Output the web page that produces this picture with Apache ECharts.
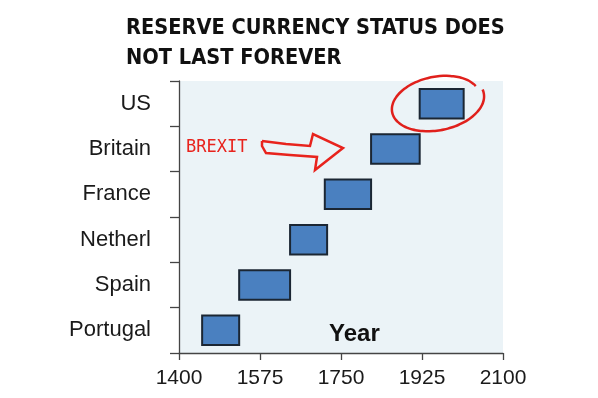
<!DOCTYPE html>
<html>
<head>
<meta charset="utf-8">
<script src="https://cdn.jsdelivr.net/npm/echarts@6/dist/echarts.min.js"></script>
<style>
  html, body { margin: 0; padding: 0; background: #fff; }
  #chart { width: 598px; height: 398px; }
</style>
</head>
<body>
<div id="chart"></div>
<script>
  // 储备货币年代，下到上
  var countries = ['Portugal', 'Spain', 'Netherl', 'France', 'Britain', 'US'];
  var startYears = [1450, 1530, 1640, 1715, 1815, 1920];
  var endYears = [1530, 1640, 1720, 1815, 1920, 2015];
  var yearTicks = [1400, 1575, 1750, 1925, 2100];

  var spans = countries.map(function (c, i) {
    return [i, startYears[i], endYears[i]];
  });

  // 手绘红圈（注释用）
  function ellipsePoints() {
    var pts = [];
    var cx = 437, cy = 103, phi = -0.2;
    for (var t = -0.35; t >= -2 * Math.PI - 0.15; t -= 0.08) {
      var k = (-0.35 - t) / (2 * Math.PI);
      var rx = 44 + 4 * k, ry = 26 + 2 * k;
      var x = cx + rx * Math.cos(t) * Math.cos(phi) - ry * Math.sin(t) * Math.sin(phi);
      var y = cy + rx * Math.cos(t) * Math.sin(phi) + ry * Math.sin(t) * Math.cos(phi);
      pts.push([x, y]);
    }
    return pts;
  }

  var myChart = echarts.init(document.getElementById('chart'), null, { renderer: 'canvas' });
  var option = {
    animation: false,
    backgroundColor: '#fff',
    title: {
      text: 'RESERVE CURRENCY STATUS DOES\nNOT LAST FOREVER',
      left: 121,
      top: 8,
      textStyle: {
        fontFamily: '"DejaVu Sans Condensed", sans-serif',
        fontWeight: 'bold',
        fontSize: 21.6,
        lineHeight: 30,
        color: '#111'
      }
    },
    grid: {
      left: 179,
      right: 95,
      top: 81,
      bottom: 45,
      show: true,
      backgroundColor: '#ebf3f7',
      borderWidth: 0
    },
    xAxis: {
      type: 'value',
      min: yearTicks[0],
      max: yearTicks[yearTicks.length - 1],
      interval: yearTicks[1] - yearTicks[0],
      splitLine: { show: false },
      axisLine: { show: true, lineStyle: { color: '#444', width: 1.3 } },
      axisTick: { show: true, length: 7, lineStyle: { color: '#444', width: 1.3 } },
      axisLabel: {
        margin: 15,
        formatter: function (v) { return String(v); },
        fontFamily: '"Liberation Sans", Arial, sans-serif',
        fontSize: 21,
        color: '#1a1a1a'
      }
    },
    yAxis: {
      type: 'category',
      data: countries,
      axisLine: { show: true, lineStyle: { color: '#444', width: 1.3 } },
      axisTick: { show: true, length: 9, lineStyle: { color: '#444', width: 1.3 } },
      axisLabel: {
        margin: 28,
        fontFamily: '"Liberation Sans", Arial, sans-serif',
        fontSize: 22,
        color: '#1a1a1a'
      }
    },
    series: [{
      type: 'custom',
      encode: { x: [1, 2], y: 0 },
      data: spans,
      renderItem: function (params, api) {
        var cat = api.value(0);
        var p0 = api.coord([api.value(1), cat]);
        var p1 = api.coord([api.value(2), cat]);
        var h = api.size([0, 1])[1] * 0.65;
        return {
          type: 'rect',
          shape: { x: p0[0], y: p0[1] - h / 2, width: p1[0] - p0[0], height: h },
          style: { fill: '#4a80c0', stroke: '#1b2633', lineWidth: 2 }
        };
      }
    }],
    graphic: [
      {
        type: 'text',
        left: 329,
        top: 322,
        style: {
          text: 'Year',
          font: 'bold 24px "Liberation Sans", Arial, sans-serif',
          fill: '#111'
        }
      },
      {
        type: 'text',
        left: 186,
        top: 139,
        style: {
          text: 'BREXIT',
          font: '17px "DejaVu Sans Mono", monospace',
          fill: '#e8231d'
        }
      },
      {
        type: 'polyline',
        shape: {
          points: [[262, 141], [286, 144], [310, 146], [313, 134], [343, 148],
                   [315, 170], [317, 157], [290, 155], [266, 153], [262, 146], [262, 141]]
        },
        style: { stroke: '#e8231d', lineWidth: 2.5, fill: null }
      },
      {
        type: 'polyline',
        shape: { points: ellipsePoints(), smooth: 0.3 },
        style: { stroke: '#e0201c', lineWidth: 2.5, fill: null }
      }
    ]
  };
  myChart.setOption(option);
</script>
</body>
</html>
